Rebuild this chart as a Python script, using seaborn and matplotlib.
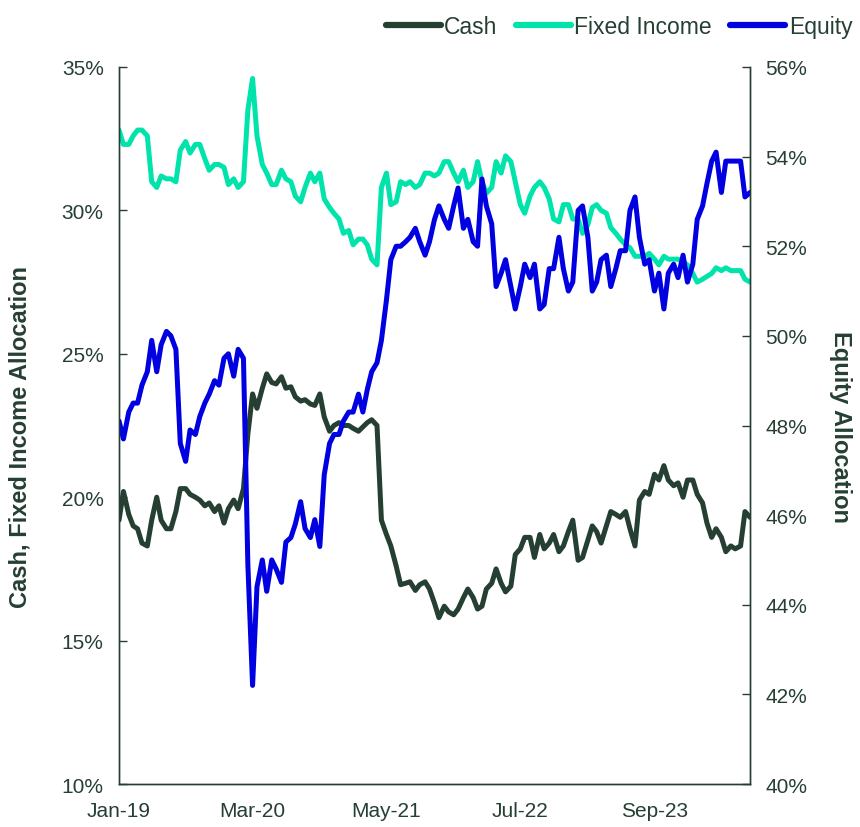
import matplotlib
matplotlib.use("Agg")
import matplotlib.pyplot as plt
import matplotlib.dates as mdates
from matplotlib.ticker import FuncFormatter
import seaborn as sns
import pandas as pd

# semi-monthly readings, Jan 2019 - Jul 2024
dates = pd.date_range("2019-01-01", "2024-07-01", freq="SMS")

cash = [
    19.2, 20.2, 19.4, 19.0, 18.9, 18.4, 18.3, 19.2, 20.0, 19.2,
    18.9, 18.9, 19.5, 20.3, 20.3, 20.1, 20.0, 19.9, 19.7, 19.8,
    19.5, 19.7, 19.1, 19.6, 19.9, 19.6, 20.3, 22.2, 23.6, 23.1,
    23.8, 24.3, 24.0, 23.95, 24.2, 23.8, 23.85, 23.5, 23.35, 23.4,
    23.25, 23.2, 23.6, 22.8, 22.3, 22.5, 22.6, 22.5, 22.5, 22.4,
    22.3, 22.45, 22.6, 22.7, 22.5, 19.2, 18.7, 18.3, 17.6, 16.95,
    17.0, 17.05, 16.75, 16.95, 17.05, 16.8, 16.3, 15.8, 16.2, 16.0,
    15.9, 16.1, 16.5, 16.8, 16.5, 16.1, 16.2, 16.8, 17.0, 17.5,
    17.0, 16.7, 16.9, 18.0, 18.2, 18.6, 18.6, 17.9, 18.7, 18.2,
    18.4, 18.7, 18.1, 18.3, 18.8, 19.2, 17.8, 17.9, 18.5, 19.0,
    18.8, 18.4, 19.0, 19.5, 19.4, 19.3, 19.5, 18.9, 18.3, 19.9,
    20.2, 20.1, 20.8, 20.6, 21.1, 20.6, 20.4, 20.5, 20.0, 20.6,
    20.6, 20.1, 19.8, 19.1, 18.6, 18.9, 18.6, 18.1, 18.3, 18.2,
    18.3, 19.5, 19.3,
]

fixed_income = [
    32.8, 32.3, 32.3, 32.6, 32.8, 32.8, 32.6, 31.0, 30.8, 31.2,
    31.1, 31.1, 31.0, 32.1, 32.4, 32.0, 32.3, 32.3, 31.8, 31.4,
    31.6, 31.6, 31.5, 30.9, 31.1, 30.8, 31.0, 33.5, 34.6, 32.6,
    31.6, 31.3, 30.9, 30.9, 31.4, 31.1, 31.0, 30.5, 30.3, 30.8,
    31.3, 31.0, 31.3, 30.4, 30.1, 29.9, 29.7, 29.2, 29.3, 28.8,
    29.0, 29.0, 28.8, 28.3, 28.1, 30.8, 31.3, 30.2, 30.3, 31.0,
    30.9, 31.0, 30.8, 30.9, 31.3, 31.3, 31.2, 31.3, 31.7, 31.7,
    31.3, 31.0, 31.4, 30.8, 31.0, 31.7, 31.0, 30.6, 30.8, 31.7,
    31.3, 31.9, 31.7, 31.0, 30.2, 29.9, 30.5, 30.8, 31.0, 30.8,
    30.4, 29.7, 29.6, 30.2, 30.2, 29.7, 29.7, 29.2, 29.5, 30.1,
    30.2, 30.0, 29.9, 29.4, 29.2, 29.0, 28.8, 28.7, 28.4, 28.4,
    28.4, 28.5, 28.3, 28.1, 28.4, 28.3, 28.3, 28.3, 28.2, 28.1,
    27.8, 27.5, 27.6, 27.7, 27.8, 28.0, 27.9, 28.0, 27.9, 27.9,
    27.9, 27.6, 27.5,
]

equity = [
    48.1, 47.7, 48.3, 48.5, 48.5, 48.9, 49.2, 49.9, 49.2, 49.8,
    50.1, 50.0, 49.7, 47.6, 47.2, 47.9, 47.8, 48.2, 48.5, 48.7,
    49.0, 48.9, 49.5, 49.6, 49.1, 49.7, 49.5, 44.9, 42.2, 44.4,
    45.0, 44.3, 45.0, 44.8, 44.5, 45.4, 45.5, 45.8, 46.3, 45.7,
    45.5, 45.9, 45.3, 46.9, 47.6, 47.8, 47.8, 48.1, 48.3, 48.3,
    48.7, 48.3, 48.8, 49.2, 49.4, 49.9, 50.8, 51.7, 52.0, 52.0,
    52.1, 52.2, 52.4, 52.1, 51.8, 52.1, 52.6, 52.9, 52.6, 52.4,
    52.9, 53.3, 52.4, 52.6, 52.1, 52.0, 53.5, 52.9, 52.5, 51.1,
    51.4, 51.7, 51.1, 50.6, 51.1, 51.6, 51.3, 51.6, 50.6, 50.7,
    51.5, 51.5, 52.2, 51.5, 51.0, 51.2, 52.8, 52.9, 52.2, 51.0,
    51.2, 51.7, 51.8, 51.1, 51.5, 51.9, 51.9, 52.8, 53.1, 52.2,
    51.6, 51.7, 51.0, 51.4, 50.6, 51.4, 51.6, 51.3, 51.8, 51.2,
    51.6, 52.6, 52.9, 53.4, 53.9, 54.1, 53.2, 53.9, 53.9, 53.9,
    53.9, 53.1, 53.2,
]

tick_dates = pd.to_datetime(["2019-01-01", "2020-03-01", "2021-05-01", "2022-07-01", "2023-09-01"])

c_cash = "#263f33"
c_fi = "#00e4ac"
c_eq = "#0000e0"
txt = "#263f33"

sns.set_style("white")
plt.rcParams["font.family"] = ["Liberation Sans", "DejaVu Sans"]
plt.rcParams["axes.edgecolor"] = txt

fig = plt.figure(figsize=(8.6, 8.28), dpi=100)
ax = fig.add_axes([0.1384, 0.0519, 0.7337, 0.866])
ax2 = ax.twinx()

df = pd.DataFrame({"date": dates, "Cash": cash, "Fixed Income": fixed_income, "Equity": equity})

sns.lineplot(data=df, x="date", y="Cash", ax=ax, color=c_cash, linewidth=3.6, label="Cash", legend=False)
sns.lineplot(data=df, x="date", y="Fixed Income", ax=ax, color=c_fi, linewidth=3.6, label="Fixed Income", legend=False)
sns.lineplot(data=df, x="date", y="Equity", ax=ax2, color=c_eq, linewidth=3.6, label="Equity", legend=False)

ax.set_ylim(10, 35)
ax.set_yticks([10, 15, 20, 25, 30, 35])
ax2.set_ylim(40, 56)
ax2.set_yticks([40, 42, 44, 46, 48, 50, 52, 54, 56])
pct = FuncFormatter(lambda v, p: f"{v:.0f}%")
ax.yaxis.set_major_formatter(pct)
ax2.yaxis.set_major_formatter(pct)

ax.set_xlim(pd.Timestamp("2019-01-01"), pd.Timestamp("2024-07-01"))
ax.set_xticks(tick_dates)
ax.xaxis.set_major_formatter(mdates.DateFormatter("%b-%y"))

for a in (ax, ax2):
    a.tick_params(direction="in", length=6, width=1, colors=txt, labelsize=15, pad=11)
    a.spines["top"].set_visible(False)
    for s in ("left", "right", "bottom"):
        a.spines[s].set_color(txt)
        a.spines[s].set_linewidth(1)
ax.tick_params(axis="x", pad=12)

ax.set_xlabel("")
ax.set_ylabel("Cash, Fixed Income Allocation", fontsize=17, fontweight="bold", color=txt)
ax.yaxis.set_label_coords(-0.138, 0.485)
ax2.set_ylabel("Equity Allocation", fontsize=17, fontweight="bold", color=txt, rotation=270, va="bottom")
ax2.yaxis.set_label_coords(1.125, 0.5)

h1, l1 = ax.get_legend_handles_labels()
h2, l2 = ax2.get_legend_handles_labels()
leg = fig.legend(h1 + h2, l1 + l2, loc="upper right", bbox_to_anchor=(1.015, 1.005), ncol=3,
                 frameon=False, fontsize=16.5, handlelength=2.4, handletextpad=0.15, columnspacing=0.8)
for t in leg.get_texts():
    t.set_color(txt)
for line in leg.get_lines():
    line.set_linewidth(4.5)

fig.savefig("out.png", dpi=100)
